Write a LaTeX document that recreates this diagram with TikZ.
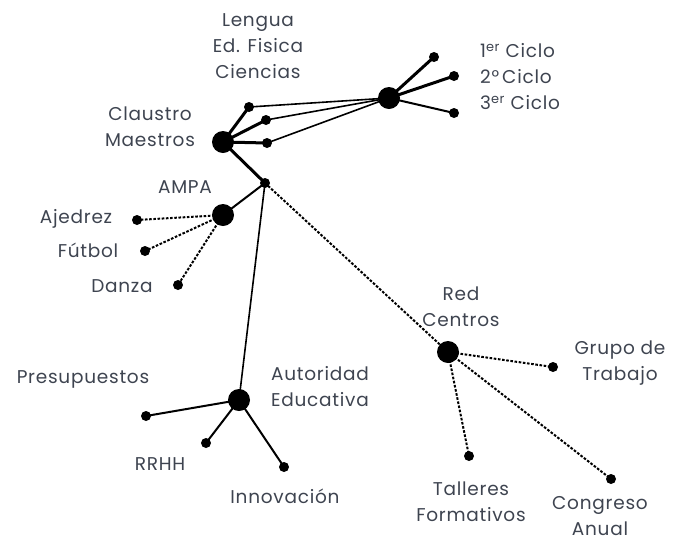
\documentclass[tikz,border=0pt]{standalone}
\usepackage{fontspec}
\setmainfont{Poppins}[LetterSpace=4]
\definecolor{txt}{HTML}{3E4450}
\begin{document}
\begin{tikzpicture}[x=1pt,y=-1pt,
  big/.style={circle,fill=black,minimum size=22pt,inner sep=0pt},
  small/.style={circle,fill=black,minimum size=10pt,inner sep=0pt},
  lab/.style={text=txt,font=\fontsize{18.5}{26}\selectfont,align=center,inner sep=0pt},
  thick3/.style={line width=3pt},
  mid2/.style={line width=2pt},
  thin15/.style={line width=1.6pt},
  dots/.style={line width=2pt,dash pattern=on 2.6pt off 1.6pt}]
\useasboundingbox (0,0) rectangle (673,542);
% hubs
\node[big] (cl) at (223,142) {};
\node[big] (ci) at (389,98) {};
\node[small] (j) at (265,183) {};
\node[big] (am) at (223,215) {};
\node[big] (au) at (239,400) {};
\node[big] (rc) at (448,352) {};
% small dots
\node[small] (s1) at (249,107) {};
\node[small] (s2) at (266,120) {};
\node[small] (s3) at (267,143) {};
\node[small] (c1) at (434,57) {};
\node[small] (c2) at (454,76) {};
\node[small] (c3) at (454,113) {};
\node[small] (a1) at (137,220) {};
\node[small] (a2) at (145,251) {};
\node[small] (a3) at (178,285) {};
\node[small] (p1) at (146,416) {};
\node[small] (p2) at (206,443) {};
\node[small] (p3) at (284,467) {};
\node[small] (r1) at (553,367) {};
\node[small] (r2) at (469,456) {};
\node[small] (r3) at (611,479) {};
% edges
\draw[thick3] (cl.center) -- (s1.center);
\draw[thick3] (cl.center) -- (s2.center);
\draw[thick3] (cl.center) -- (s3.center);
\draw[thin15] (s1.center) -- (ci.center);
\draw[thin15] (s2.center) -- (ci.center);
\draw[thin15] (s3.center) -- (ci.center);
\draw[thick3] (ci.center) -- (c1.center);
\draw[thick3] (ci.center) -- (c2.center);
\draw[mid2] (ci.center) -- (c3.center);
\draw[thick3] (cl.center) -- (j.center);
\draw[mid2] (j.center) -- (am.center);
\draw[thin15] (j.center) -- (au.center);
\draw[dots] (j.center) -- (rc.center);
\draw[dots] (am.center) -- (a1.center);
\draw[dots] (am.center) -- (a2.center);
\draw[dots] (am.center) -- (a3.center);
\draw[mid2] (au.center) -- (p1.center);
\draw[mid2] (au.center) -- (p2.center);
\draw[mid2] (au.center) -- (p3.center);
\draw[dots] (rc.center) -- (r1.center);
\draw[dots] (rc.center) -- (r2.center);
\draw[dots] (rc.center) -- (r3.center);
% labels
\node[lab] (lLen) at (258,46) {Lengua\\Ed. Fisica\\Ciencias};
\node[lab] (lCl) at (150,127) {Claustro\\Maestros};
\node[lab,align=left,anchor=west] (lCi) at (480,77) {1\textsuperscript{er} Ciclo\\2°\,Ciclo\\3\textsuperscript{er} Ciclo};
\node[lab] (lAm) at (185,187) {AMPA};
\node[lab] (lAj) at (76,219) {Ajedrez};
\node[lab] (lFu) at (88,250) {Fútbol};
\node[lab] (lDa) at (122,286) {Danza};
\node[lab] (lRc) at (461,307) {Red\\Centros};
\node[lab] (lGr) at (620,363) {Grupo de\\Trabajo};
\node[lab] (lPr) at (83,379) {Presupuestos};
\node[lab] (lAu) at (320,387) {Autoridad\\Educativa};
\node[lab] (lRR) at (160,464) {RRHH};
\node[lab] (lIn) at (285,496) {Innovación};
\node[lab] (lTa) at (471,502) {Talleres\\Formativos};
\node[lab] (lCo) at (600,516) {Congreso\\Anual};
\end{tikzpicture}
\end{document}
